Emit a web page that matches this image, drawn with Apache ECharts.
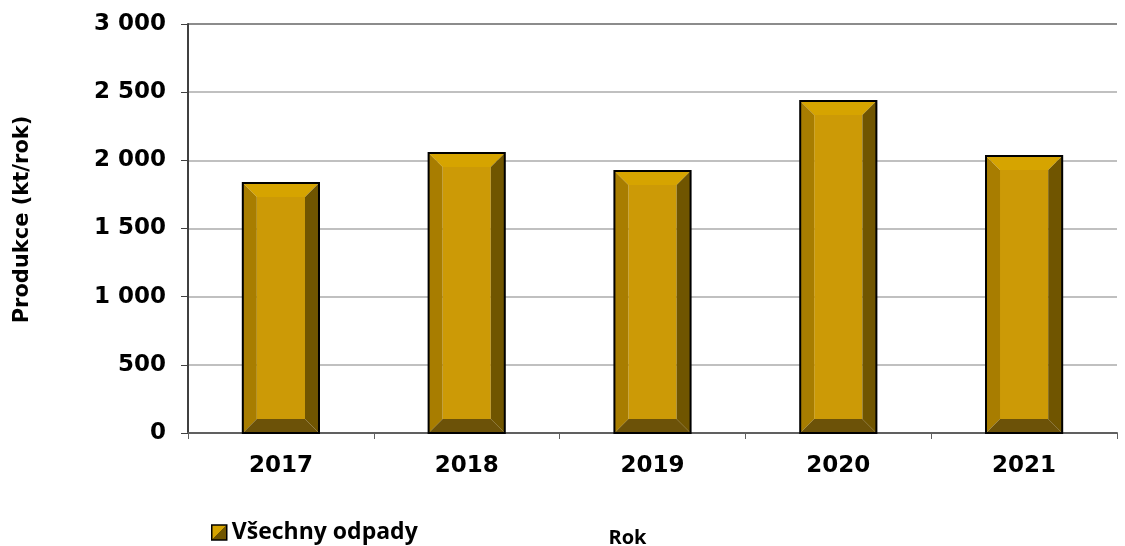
<!DOCTYPE html>
<html>
<head>
<meta charset="utf-8">
<script src="https://cdn.jsdelivr.net/npm/echarts@6/dist/echarts.min.js"></script>
<style>
  html, body { margin: 0; padding: 0; background: #fff; }
  #chart { width: 1125px; height: 546px; }
</style>
</head>
<body>
<div id="chart"></div>
<script>
// Produkce odpadů v letech 2017–2021 (kt/rok)
const years = ['2017', '2018', '2019', '2020', '2021'];
const production = [1834, 2054, 1922, 2435, 2032];
const seriesName = 'Všechny odpady';
const yTicks = [0, 500, 1000, 1500, 2000, 2500, 3000];

const faces = {
  top: '#D6A400',
  left: '#A87D00',
  center: '#CC9A06',
  right: '#705500',
  bottom: '#6C5208'
};

const chart = echarts.init(document.getElementById('chart'));

function fmt(v) {
  return String(v).replace(/\B(?=(\d{3})+(?!\d))/g, ' ');
}

// beveled bar: four sloped faces around a flat front panel
function renderBevelBar(params, api) {
  const idx = api.value(0);
  const top = api.coord([idx, api.value(1)]);
  const base = api.coord([idx, 0]);
  const w = api.size([1, 0])[0] * 0.41;
  const x0 = top[0] - w / 2, x1 = top[0] + w / 2;
  const y0 = top[1], y1 = base[1];
  const b = 14;
  const poly = (pts, fill) => ({ type: 'polygon', shape: { points: pts }, style: { fill: fill } });
  return {
    type: 'group',
    children: [
      { type: 'rect', shape: { x: x0 + b, y: y0 + b, width: w - 2 * b, height: y1 - y0 - 2 * b }, style: { fill: faces.center } },
      poly([[x0, y0], [x1, y0], [x1 - b, y0 + b], [x0 + b, y0 + b]], faces.top),
      poly([[x0, y0], [x0 + b, y0 + b], [x0 + b, y1 - b], [x0, y1]], faces.left),
      poly([[x1, y0], [x1, y1], [x1 - b, y1 - b], [x1 - b, y0 + b]], faces.right),
      poly([[x0, y1], [x0 + b, y1 - b], [x1 - b, y1 - b], [x1, y1]], faces.bottom),
      { type: 'rect', shape: { x: x0, y: y0, width: w, height: y1 - y0 }, style: { fill: null, stroke: '#000', lineWidth: 2 } }
    ]
  };
}

const legendFill = new echarts.graphic.LinearGradient(0, 0, 1, 1, [
  { offset: 0, color: faces.top },
  { offset: 0.5, color: faces.top },
  { offset: 0.5, color: faces.right },
  { offset: 1, color: faces.right }
]);

chart.setOption({
  backgroundColor: '#ffffff',
  animation: false,
  grid: { left: 188, right: 8, top: 24, bottom: 113, containLabel: false, outerBoundsMode: 'none' },
  legend: {
    left: 206,
    top: 516,
    itemWidth: 15,
    itemHeight: 15,
    itemGap: 10,
    textStyle: { fontFamily: 'Open Sans', fontWeight: 'bold', fontSize: 23, color: '#000', padding: [0, 0, 0, 0] },
    data: [{ name: seriesName, icon: 'rect', itemStyle: { color: legendFill, borderColor: '#000', borderWidth: 1.5 } }]
  },
  xAxis: {
    type: 'category',
    data: years,
    name: 'Rok',
    nameLocation: 'middle',
    nameGap: 95,
    nameTextStyle: { fontFamily: 'Open Sans', fontWeight: 'bold', fontSize: 20, color: '#000', padding: [0, 50, 0, 0] },
    axisLine: { lineStyle: { color: '#606060', width: 2 } },
    axisTick: { show: true, alignWithLabel: false, length: 6, lineStyle: { color: '#606060', width: 1 } },
    axisLabel: { margin: 22, fontFamily: 'DejaVu Sans', fontWeight: 'bold', fontSize: 23, color: '#000' },
    splitLine: { show: false }
  },
  yAxis: {
    type: 'value',
    min: yTicks[0],
    max: yTicks[yTicks.length - 1],
    interval: 500,
    name: 'Produkce (kt/rok)',
    nameLocation: 'middle',
    nameRotate: 90,
    nameGap: 155,
    nameTextStyle: { fontFamily: 'DejaVu Sans', fontWeight: 'bold', fontSize: 21, color: '#000', padding: [0, 0, 0, 18] },
    axisLine: { show: true, lineStyle: { color: '#404040', width: 2 } },
    axisTick: { show: true, length: 7, lineStyle: { color: '#404040', width: 1 } },
    axisLabel: { margin: 22, fontFamily: 'DejaVu Sans', fontWeight: 'bold', fontSize: 23, color: '#000', formatter: fmt },
    splitLine: {
      show: true,
      lineStyle: { color: ['#c0c0c0', '#c0c0c0', '#c0c0c0', '#c0c0c0', '#c0c0c0', '#c0c0c0', '#8c8c8c'], width: 2 }
    }
  },
  series: [{
    name: seriesName,
    type: 'custom',
    renderItem: renderBevelBar,
    encode: { x: 0, y: 1 },
    itemStyle: { color: legendFill, borderColor: '#000', borderWidth: 1.5 },
    data: production.map((v, i) => [i, v]),
    z: 3
  }]
});
</script>
</body>
</html>
